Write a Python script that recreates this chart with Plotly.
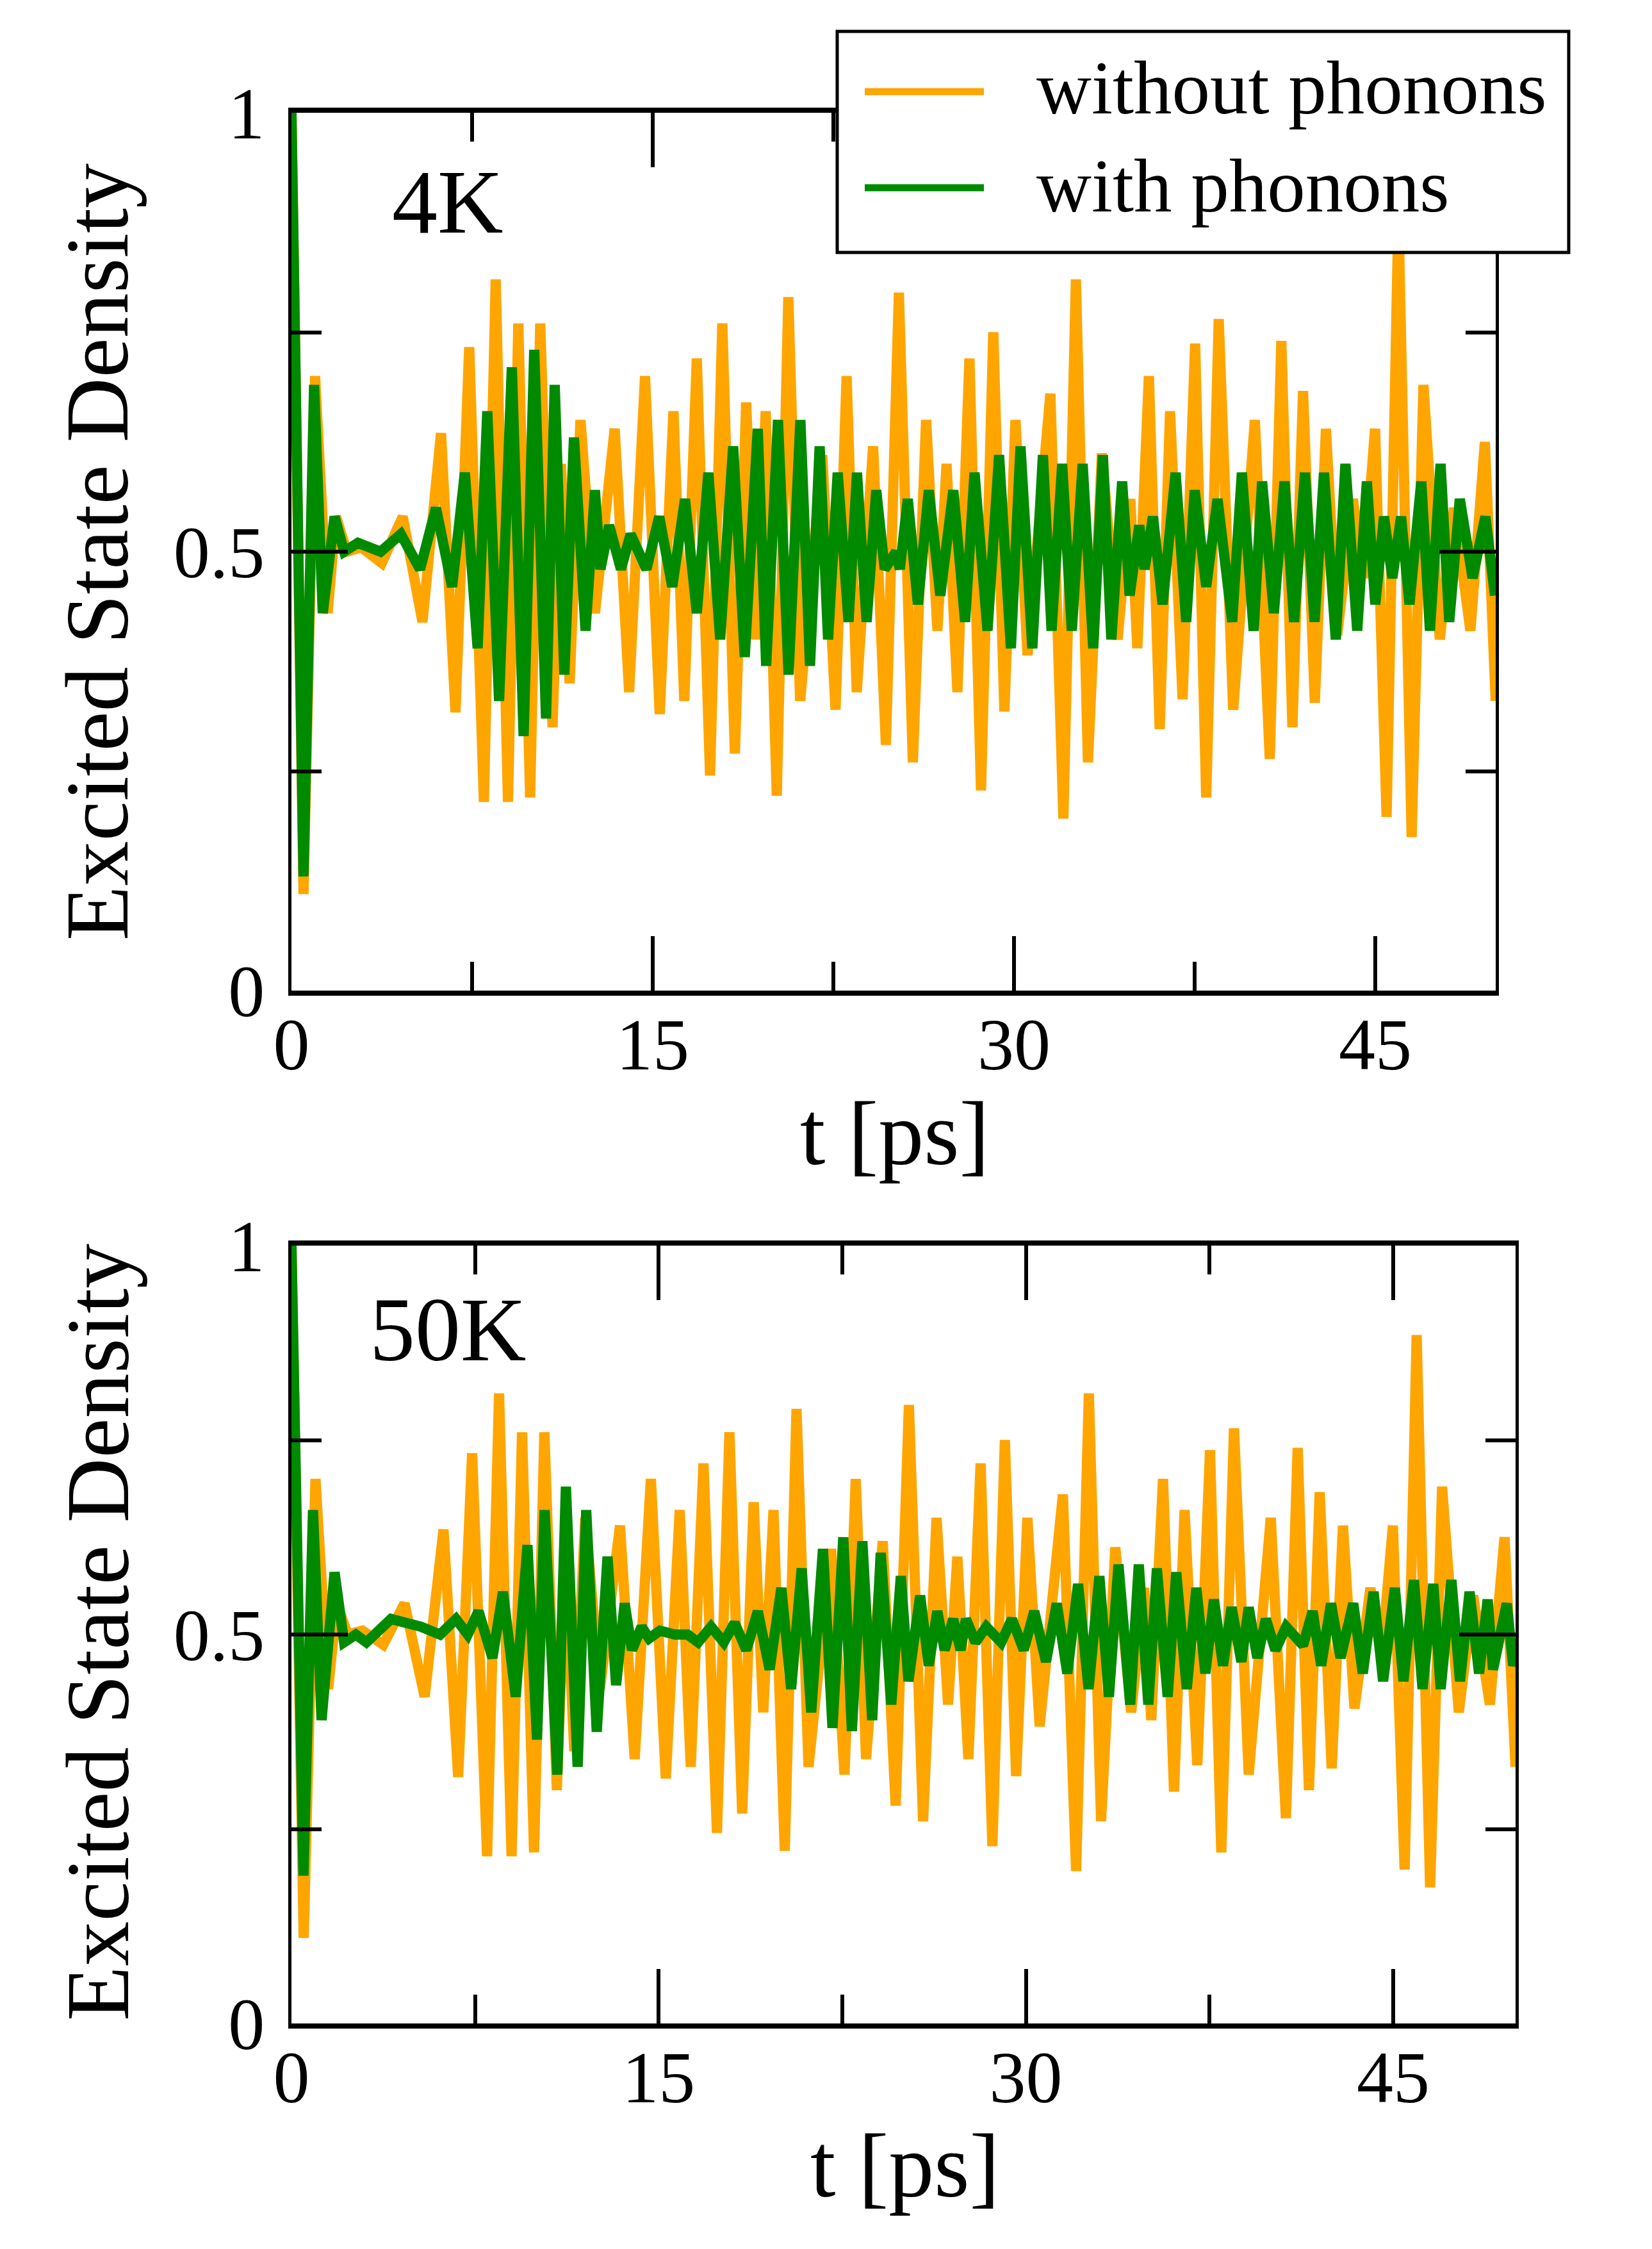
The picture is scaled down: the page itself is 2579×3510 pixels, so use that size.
import plotly.graph_objects as go

# ---------------- data ----------------
# "without phonons" (identical in both panels)
orange_t = [0.0, 0.50, 0.98, 1.50, 1.85, 2.30, 2.90, 3.75, 4.62, 5.44, 6.21, 6.81, 7.38, 7.99, 8.48,
            8.99, 9.42, 9.91, 10.33, 10.84, 11.19, 11.55, 12.0, 12.6, 13.42, 14.02, 14.68, 15.29,
            15.86, 16.31, 16.83, 17.38, 17.89, 18.41, 18.88, 19.27, 19.69, 20.15, 20.63, 21.12,
            22.04, 22.59, 23.05, 23.47, 24.15, 24.68, 25.22, 25.80, 26.35, 26.82, 27.2, 27.65,
            28.15, 28.63, 29.14, 29.6, 30.06, 30.56, 31.51, 32.05, 32.57, 33.07, 33.65, 34.3,
            34.83, 35.12, 35.6, 36.05, 36.48, 37.0, 37.52, 37.98, 38.5, 39.1, 40.0, 40.62, 41.1,
            41.56, 42.0, 42.49, 42.95, 43.42, 44.07, 44.52, 44.99, 45.47, 45.96, 46.51, 47.0,
            47.68, 48.27, 48.95, 49.55, 50.0]
orange_v = [1.0, 0.11, 0.70, 0.43, 0.54, 0.50, 0.505, 0.487, 0.54, 0.42, 0.635, 0.317, 0.733, 0.215, 0.81,
            0.215, 0.76, 0.22, 0.76, 0.30, 0.60, 0.35, 0.65, 0.43, 0.64, 0.34, 0.70, 0.315,
            0.66, 0.33, 0.72, 0.245, 0.76, 0.27, 0.67, 0.40, 0.66, 0.222, 0.79, 0.33,
            0.61, 0.32, 0.70, 0.34, 0.62, 0.28, 0.795, 0.26, 0.65, 0.41, 0.60, 0.34,
            0.72, 0.228, 0.75, 0.318, 0.65, 0.382, 0.68, 0.196, 0.81, 0.26, 0.612, 0.40,
            0.56, 0.39, 0.70, 0.298, 0.66, 0.332, 0.737, 0.22, 0.765, 0.32, 0.65, 0.264, 0.74,
            0.30, 0.683, 0.328, 0.64, 0.405, 0.56, 0.47, 0.64, 0.198, 0.885, 0.175, 0.69,
            0.40, 0.55, 0.41, 0.625, 0.33]

# "with phonons", 4K
green4_t = [0.0, 0.50, 0.94, 1.30, 1.79, 2.19, 2.76, 3.70, 4.54, 5.34, 6.0, 6.67, 7.2, 7.73, 8.13,
            8.62, 9.15, 9.64, 10.08, 10.57, 10.93, 11.33, 11.73, 12.21, 12.6, 12.83, 13.19, 13.68,
            14.08, 14.74, 15.27, 15.81, 16.34, 16.83, 17.31, 17.80, 18.34, 18.82, 19.36, 19.71,
            20.20, 20.64, 21.13, 21.53, 21.93, 22.28, 22.68, 23.13, 23.48, 23.88, 24.28, 24.63,
            25.1, 25.26, 25.59, 26.01, 26.46, 26.94, 27.48, 27.97, 28.36, 28.90, 29.38, 29.87,
            30.27, 30.76, 31.20, 31.56, 32.0, 32.40, 32.85, 33.29, 33.69, 34.04, 34.49, 34.80,
            35.20, 35.42, 35.77, 36.17, 36.71, 37.15, 37.50, 37.98, 38.45, 39.06, 39.46, 39.95,
            40.3, 40.79, 41.23, 41.63, 42.08, 42.48, 42.87, 43.36, 43.76, 44.25, 44.65, 45.0,
            45.36, 45.71, 46.07, 46.42, 46.91, 47.27, 47.71, 48.07, 48.51, 49.04, 49.57, 49.97]
green4_v = [1.0, 0.13, 0.69, 0.43, 0.54, 0.50, 0.51, 0.50, 0.52, 0.48, 0.55, 0.46, 0.59, 0.39, 0.66,
            0.33, 0.71, 0.29, 0.73, 0.31, 0.69, 0.36, 0.63, 0.41, 0.57, 0.48, 0.53, 0.48,
            0.52, 0.48, 0.54, 0.46, 0.56, 0.43, 0.59, 0.40, 0.62, 0.38, 0.64, 0.37,
            0.65, 0.36, 0.65, 0.37, 0.62, 0.40, 0.59, 0.42, 0.59, 0.42, 0.57, 0.48,
            0.50, 0.48, 0.56, 0.44, 0.57, 0.45, 0.57, 0.42, 0.59, 0.41, 0.61, 0.39,
            0.62, 0.39, 0.61, 0.41, 0.60, 0.41, 0.60, 0.39, 0.61, 0.40, 0.58, 0.45,
            0.53, 0.48, 0.54, 0.44, 0.59, 0.42, 0.57, 0.46, 0.56, 0.42, 0.59, 0.41,
            0.58, 0.43, 0.58, 0.42, 0.59, 0.42, 0.59, 0.40, 0.60, 0.41, 0.58, 0.44,
            0.54, 0.47, 0.54, 0.44, 0.58, 0.41, 0.60, 0.42, 0.56, 0.47, 0.54, 0.45]

# "with phonons", 50K
green50_t = [0.0, 0.49, 0.88, 1.23, 1.76, 2.15, 2.63, 3.06, 4.07, 5.29, 6.07, 6.72, 7.2, 7.64, 8.21,
             8.64, 9.16, 9.64, 10.03, 10.34, 10.86, 11.21, 11.69, 12.04, 12.47, 12.91, 13.26, 13.61,
             13.91, 14.3, 14.61, 15.05, 15.66, 16.18, 16.61, 17.14, 17.66, 18.1, 18.58, 19.05,
             19.53, 20.01, 20.41, 20.84, 21.23, 21.71, 22.1, 22.54, 22.89, 23.32, 23.72, 24.07,
             24.5, 24.89, 25.2, 25.68, 26.03, 26.38, 26.68, 27.03, 27.33, 27.55, 27.94, 28.38,
             28.99, 29.43, 29.91, 30.34, 30.82, 31.26, 31.69, 32.13, 32.56, 33.0, 33.39, 33.78,
             34.26, 34.61, 35.0, 35.35, 35.79, 36.14, 36.57, 36.96, 37.33, 37.68, 38.05, 38.4,
             38.8, 39.1, 39.45, 39.8, 40.19, 40.63, 41.32, 41.71, 42.06, 42.46, 42.85, 43.37,
             43.76, 44.2, 44.59, 45.07, 45.42, 45.85, 46.2, 46.64, 46.94, 47.38, 47.73, 48.12,
             48.51, 48.86, 49.08, 49.64, 49.9, 50.0]
green50_v = [1.0, 0.19, 0.66, 0.39, 0.58, 0.49, 0.50, 0.49, 0.52, 0.51, 0.50, 0.52, 0.50, 0.53, 0.47,
             0.555, 0.42, 0.615, 0.365, 0.66, 0.32, 0.69, 0.33, 0.66, 0.375, 0.60, 0.435, 0.54,
             0.48, 0.51, 0.495, 0.505, 0.50, 0.50, 0.49, 0.51, 0.49, 0.515, 0.48, 0.53,
             0.455, 0.56, 0.43, 0.585, 0.40, 0.61, 0.38, 0.625, 0.376, 0.62, 0.39, 0.605,
             0.41, 0.575, 0.44, 0.55, 0.46, 0.53, 0.48, 0.52, 0.48, 0.52, 0.49, 0.51,
             0.49, 0.52, 0.48, 0.53, 0.465, 0.54, 0.45, 0.565, 0.43, 0.575, 0.42, 0.59,
             0.41, 0.59, 0.41, 0.585, 0.42, 0.58, 0.43, 0.56, 0.45, 0.545, 0.46, 0.535,
             0.465, 0.535, 0.47, 0.52, 0.48, 0.51, 0.486, 0.53, 0.46, 0.54, 0.47, 0.54,
             0.45, 0.555, 0.44, 0.56, 0.44, 0.57, 0.43, 0.565, 0.43, 0.57, 0.44, 0.555,
             0.45, 0.545, 0.455, 0.54, 0.46, 0.47]

series_names = ["without phonons", "with phonons"]
panel_labels = ["4K", "50K"]
x_title = "t [ps]"
y_title = "Excited State Density"

ORANGE = "#FFA500"
GREEN = "#008A00"
FONT = "Liberation Serif"
LW = 16

fig = go.Figure()
fig.add_trace(go.Scatter(x=orange_t, y=orange_v, mode="lines", name=series_names[0],
                         line=dict(color=ORANGE, width=LW), xaxis="x", yaxis="y", showlegend=False))
fig.add_trace(go.Scatter(x=green4_t, y=green4_v, mode="lines", name=series_names[1],
                         line=dict(color=GREEN, width=LW), xaxis="x", yaxis="y", showlegend=False))
fig.add_trace(go.Scatter(x=orange_t, y=orange_v, mode="lines", name=series_names[0],
                         line=dict(color=ORANGE, width=LW), xaxis="x2", yaxis="y2", showlegend=False))
fig.add_trace(go.Scatter(x=green50_t, y=green50_v, mode="lines", name=series_names[1],
                         line=dict(color=GREEN, width=LW), xaxis="x2", yaxis="y2", showlegend=False))

W, H = 2579, 3510

def xax(domain, anchor):
    return dict(domain=domain, anchor=anchor, range=[0, 50], tick0=0, dtick=15,
                ticks="inside", ticklen=85, tickwidth=6, tickcolor="black",
                minor=dict(tick0=0, dtick=7.5, ticks="inside", ticklen=45, tickwidth=6, tickcolor="black"),
                showline=True, linewidth=8, linecolor="black", mirror="ticks",
                showgrid=False, zeroline=False, ticklabelstandoff=-22, automargin=False,
                tickfont=dict(family=FONT, size=114, color="black"))

def yax(domain, anchor):
    return dict(domain=domain, anchor=anchor, range=[0, 1], tick0=0, dtick=0.5,
                ticks="inside", ticklen=88, tickwidth=6, tickcolor="black",
                minor=dict(tick0=0, dtick=0.25, ticks="inside", ticklen=47, tickwidth=6, tickcolor="black"),
                showline=True, linewidth=5, linecolor="black", mirror="ticks",
                showgrid=False, zeroline=False, ticklabelstandoff=14, automargin=False,
                tickfont=dict(family=FONT, size=114, color="black"))

fig.update_layout(
    template="none",
    width=W, height=H, margin=dict(l=0, r=0, t=0, b=0, pad=0),
    paper_bgcolor="white", plot_bgcolor="white", showlegend=False,
    xaxis=xax([455 / W, 2335 / W], "y"),
    yaxis=yax([1 - 1546 / H, 1 - 176 / H], "x"),
    xaxis2=xax([455 / W, 2366 / W], "y2"),
    yaxis2=yax([1 - 3158 / H, 1 - 1944 / H], "x2"),
)

ann = []
# axis titles
for xc, yc in [(1397 / W, 1 - 1769 / H), (1413 / W, 1 - 3380 / H)]:
    ann.append(dict(text=x_title, x=xc, y=yc, xref="paper", yref="paper", showarrow=False,
                    xanchor="center", yanchor="middle", font=dict(family=FONT, size=142, color="black")))
for yc in [1 - 862 / H, 1 - 2548 / H]:
    ann.append(dict(text=y_title, x=152 / W, y=yc, xref="paper", yref="paper", showarrow=False,
                    textangle=-90, xanchor="center", yanchor="middle",
                    font=dict(family=FONT, size=140, color="black")))
# panel labels
for lab, yc in zip(panel_labels, [1 - 315 / H, 1 - 2075 / H]):
    ann.append(dict(text=lab, x=699 / W, y=yc, xref="paper", yref="paper", showarrow=False,
                    xanchor="center", yanchor="middle", font=dict(family=FONT, size=142, color="black")))
# legend texts
for name, yc in zip(series_names, [1 - 137 / H, 1 - 290 / H]):
    ann.append(dict(text=name, x=1616 / W, y=yc, xref="paper", yref="paper", showarrow=False,
                    xanchor="left", yanchor="middle", font=dict(family=FONT, size=119, color="black")))

shapes = [
    dict(type="rect", xref="paper", yref="paper", x0=1307 / W, x1=2449 / W, y0=1 - 394 / H, y1=1 - 49 / H,
         fillcolor="white", line=dict(color="black", width=5), layer="above"),
    dict(type="line", xref="paper", yref="paper", x0=1350 / W, x1=1536 / W, y0=1 - 143 / H, y1=1 - 143 / H,
         line=dict(color=ORANGE, width=11), layer="above"),
    dict(type="line", xref="paper", yref="paper", x0=1350 / W, x1=1536 / W, y0=1 - 293 / H, y1=1 - 293 / H,
         line=dict(color=GREEN, width=11), layer="above"),
]
fig.update_layout(annotations=ann, shapes=shapes)

fig.write_html("out.html")
